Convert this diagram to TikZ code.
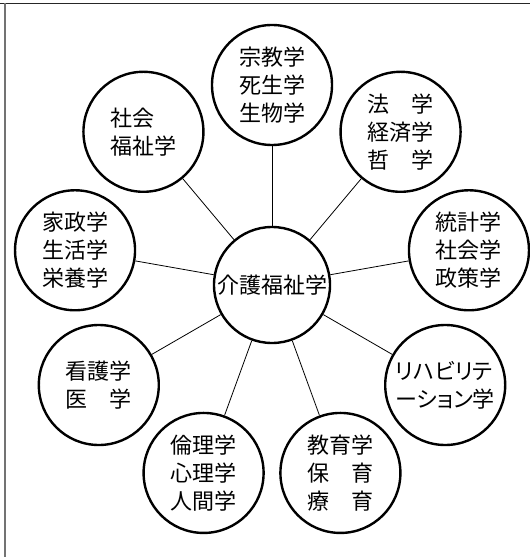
\documentclass[tikz,border=0pt]{standalone}
\usepackage{fontspec}
\setmainfont{Noto Sans CJK JP}
\newfontfamily\jpprop[RawFeature=+palt]{Noto Sans CJK JP}
\usetikzlibrary{calc}
\begin{document}
\begin{tikzpicture}[x=1bp,y=-1bp,
  topic/.style={circle,draw,line width=2.4bp,minimum size=120bp,inner sep=0pt,
    align=left,font=\fontsize{22bp}{28bp}\selectfont},
  hub/.style={circle,draw,line width=2.4bp,minimum size=116bp,inner sep=0pt,
    font=\fontsize{22bp}{28bp}\selectfont},
  link/.style={line width=0.8bp}]
\useasboundingbox (0,0) rectangle (530,557);
\draw[line width=1bp,black!85] (0,3.3) -- (530,3.3);
\draw[line width=2bp,black!55] (4.5,3.3) -- (4.5,557);
\coordinate (C) at (272,285);
\node[hub] (c) at (C) {介護福祉学};
\node[topic] (n1) at ($(C)+(90:200bp)$) {宗教学\\死生学\\生物学};
\node[topic] (n2) at ($(C)+(50:200bp)$) {法　学\\経済学\\哲　学};
\node[topic] (n3) at ($(C)+(10:200bp)$) {統計学\\社会学\\政策学};
\node[topic] (n4) at ($(C)+(-30:200bp)$) {\jpprop リハビリテ\\\jpprop ーション学};
\node[topic] (n5) at ($(C)+(-70:200bp)$) {教育学\\保　育\\療　育};
\node[topic] (n6) at ($(C)+(-110:200bp)$) {倫理学\\心理学\\人間学};
\node[topic] (n7) at ($(C)+(-150:200bp)$) {看護学\\医　学};
\node[topic] (n8) at ($(C)+(170:200bp)$) {家政学\\生活学\\栄養学};
\node[topic] (n9) at ($(C)+(130:200bp)$) {社会\\福祉学};
\foreach \i in {1,...,9} \draw[link] (c) -- (n\i);
\end{tikzpicture}
\end{document}
